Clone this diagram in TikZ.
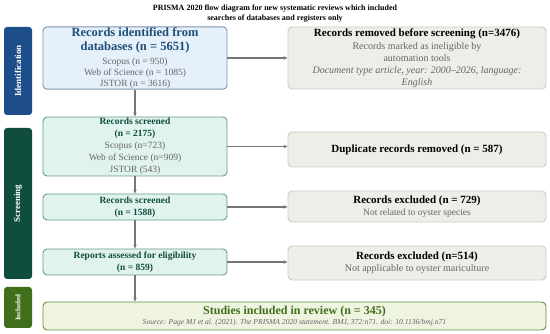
\documentclass[tikz,border=0pt]{standalone}
\usepackage{fontspec}
\setmainfont{Liberation Serif}
\usetikzlibrary{arrows.meta}
\definecolor{idbar}{HTML}{1D4E89}
\definecolor{scbar}{HTML}{0F4D3C}
\definecolor{inbar}{HTML}{3F6F1A}
\definecolor{bluefill}{HTML}{E5F0FA}
\definecolor{blueline}{HTML}{7C94AE}
\definecolor{bluetxt}{HTML}{1F4E79}
\definecolor{grnfill}{HTML}{E0F3EE}
\definecolor{grnline}{HTML}{6A9A8A}
\definecolor{grntxt}{HTML}{0F4D3C}
\definecolor{litfill}{HTML}{EEF4E0}
\definecolor{litline}{HTML}{6B8E3E}
\definecolor{littxt}{HTML}{3F6F1A}
\definecolor{graybox}{HTML}{EFEDE7}
\definecolor{grayline}{HTML}{CFCBC0}
\definecolor{subtxt}{HTML}{666666}
\definecolor{arrowc}{HTML}{777777}
\tikzset{
  bar/.style={fill=#1, draw=none, rounded corners=3pt, minimum width=28pt, inner sep=0pt},
  barlabel/.style={text=white, font=\bfseries\fontsize{9}{10}\selectfont, rotate=90},
  leftbox/.style={rounded corners=4pt, line width=0.9pt, minimum width=184pt, inner sep=1pt, align=center},
  idbox/.style={leftbox, fill=bluefill, draw=blueline},
  scbox/.style={leftbox, fill=grnfill, draw=grnline},
  rightbox/.style={rounded corners=4pt, line width=0.9pt, fill=graybox, draw=grayline, minimum width=258pt, inner sep=1pt, align=center},
  inbox/.style={rounded corners=4pt, line width=0.9pt, fill=litfill, draw=litline, minimum width=503pt, inner sep=1pt, align=center},
  arr/.style={draw=arrowc, line width=1.2pt, -{Stealth[length=4pt,width=3.5pt]}},
}
\newcommand{\tBlue}{\color{bluetxt}\bfseries\fontsize{12.5}{14}\selectfont}
\newcommand{\tGrn}{\color{grntxt}\bfseries\fontsize{9.5}{11.5}\selectfont}
\newcommand{\tBlk}{\bfseries\fontsize{11}{13}\selectfont}
\newcommand{\tSub}{\color{subtxt}\fontsize{9.5}{11}\selectfont}
\newcommand{\tSubB}{\color{subtxt}\fontsize{10}{12}\selectfont}
\begin{document}
\begin{tikzpicture}[x=1pt,y=-1pt]
\useasboundingbox (0,0) rectangle (550,334);
\fill[white] (0,0) rectangle (550,334);
% title
\node[align=center, font=\bfseries\fontsize{8}{10}\selectfont] (title) at (275,14)
  {PRISMA 2020 flow diagram for new systematic reviews which included\\searches of databases and registers only};
% side bars
\node[bar=idbar, minimum height=88pt] (bid) at (18,71) {};
\node[barlabel] (lid) at (bid.center) {Identification};
\node[bar=scbar, minimum height=151pt] (bsc) at (18,203.5) {};
\node[barlabel] (lsc) at (bsc.center) {Screening};
\node[bar=inbar, minimum height=41pt] (bin) at (18,307.5) {};
\node[barlabel, font=\bfseries\fontsize{7}{8}\selectfont] (lin) at (bin.center) {Included};
% left column
\node[idbox, minimum height=62pt, font=\fontsize{9.5}{11}\selectfont] (b1) at (135,58)
  {\tBlue Records identified from\\[3pt]
   \tBlue databases (n = 5651)\\[2.5pt]
   \tSub Scopus (n = 950)\\
   \tSub Web of Science (n = 1085)\\
   \tSub JSTOR (n = 3616)};
\node[scbox, minimum height=59pt, font=\fontsize{9.5}{12}\selectfont] (b2) at (135,146.5)
  {\tGrn Records screened\\
   \tGrn (n = 2175)\\
   \tSub Scopus (n=723)\\
   \tSub Web of Science (n=909)\\
   \tSub JSTOR (543)};
\node[scbox, minimum height=26pt, font=\fontsize{9.5}{11.5}\selectfont] (b3) at (135,207)
  {\tGrn Records screened\\ \tGrn (n = 1588)};
\node[scbox, minimum height=26pt, font=\fontsize{9.5}{11.5}\selectfont] (b4) at (135,262)
  {\tGrn Reports assessed for eligibility\\ \tGrn (n = 859)};
\node[inbox, minimum height=28pt, font=\fontsize{7}{10}\selectfont] (b5) at (294.5,316)
  {\color{littxt}\bfseries\fontsize{12}{12}\selectfont Studies included in review (n = 345)\\[0pt]
   \color{subtxt}\itshape\fontsize{7.6}{9}\selectfont Source: Page MJ et al. (2021). The PRISMA 2020 statement. BMJ, 372:n71. doi: 10.1136/bmj.n71};
% right column
\node[rightbox, minimum height=62pt, font=\fontsize{10}{12}\selectfont] (r1) at (417,58)
  {\tBlk Records removed before screening (n=3476)\\[1.5pt]
   \tSubB Records marked as ineligible by\\
   \tSubB automation tools\\
   \tSubB\itshape Document type article, year: 2000--2026, language:\\
   \tSubB\itshape English};
\node[rightbox, minimum height=35pt] (r2) at (417,149.5)
  {\tBlk Duplicate records removed (n = 587)};
\node[rightbox, minimum height=31pt, font=\fontsize{9.5}{11.5}\selectfont] (r3) at (417,206.5)
  {\tBlk Records excluded (n = 729)\\
   \tSub Not related to oyster species};
\node[rightbox, minimum height=34pt, font=\fontsize{10}{11.5}\selectfont] (r4) at (417,263)
  {\tBlk Records excluded (n=514)\\
   \tSubB Not applicable to oyster mariculture};
% arrows
\draw[arr] (b1) -- (b2);
\draw[arr] (b2) -- (b3);
\draw[arr] (b3) -- (b4);
\draw[arr] (b4.south) -- (b4.south |- b5.north);
\draw[arr] (b1.east) -- (b1.east -| r1.west);
\draw[arr] (b2.east) -- (b2.east -| r2.west);
\draw[arr] (b3.east) -- (b3.east -| r3.west);
\draw[arr] (b4.east) -- (b4.east -| r4.west);
\end{tikzpicture}
\end{document}
